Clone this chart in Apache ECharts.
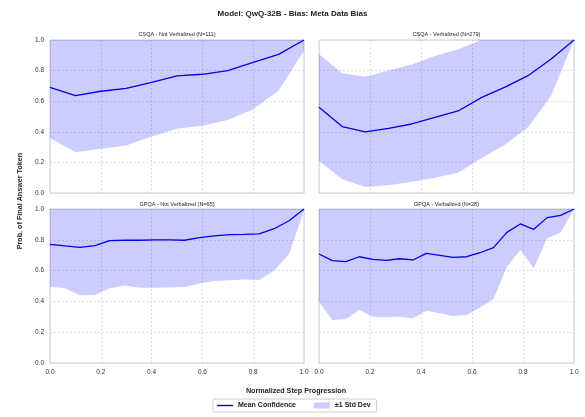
<!DOCTYPE html>
<html><head><meta charset="utf-8">
<script src="https://cdn.jsdelivr.net/npm/echarts@6/dist/echarts.min.js"></script>
<style>html,body{margin:0;padding:0;background:#fff}#c{width:585px;height:417px}</style>
</head><body><div id="c"></div>
<script>
const mainTitle = 'Model: QwQ-32B - Bias: Meta Data Bias';
const panelTitles = ['CSQA - Not Verbalized (N=111)', 'CSQA - Verbalized (N=279)', 'GPQA - Not Verbalized (N=65)', 'GPQA - Verbalized (N=28)'];
const xLabel = 'Normalized Step Progression';
const yLabel = 'Prob. of Final Answer Token';
const legendMean = 'Mean Confidence';
const legendStd = '±1 Std Dev';

// Panel 1: CSQA - Not Verbalized (11 points)
const p1x = [0, 0.1, 0.2, 0.3, 0.4, 0.5, 0.6, 0.7, 0.8, 0.9, 1.0];
const p1mean = [0.69, 0.636, 0.665, 0.684, 0.723, 0.765, 0.776, 0.80, 0.854, 0.906, 1.0];
const p1low = [0.36, 0.266, 0.29, 0.31, 0.37, 0.42, 0.44, 0.477, 0.547, 0.67, 0.93];
const p1up = [1, 1, 1, 1, 1, 1, 1, 1, 1, 1, 1];

// Panel 2: CSQA - Verbalized (12 points, x = i/11)
const p2x = [0, 0.0909, 0.1818, 0.2727, 0.3636, 0.4545, 0.5455, 0.6364, 0.7273, 0.8182, 0.9091, 1.0];
const p2mean = [0.56, 0.434, 0.40, 0.423, 0.451, 0.495, 0.536, 0.623, 0.69, 0.765, 0.874, 1.0];
const p2low = [0.21, 0.09, 0.04, 0.05, 0.074, 0.10, 0.133, 0.227, 0.314, 0.427, 0.63, 1.0];
const p2up = [0.908, 0.782, 0.76, 0.80, 0.84, 0.895, 0.94, 1, 1, 1, 1, 1];

// Panel 3: GPQA - Not Verbalized (18 points, x = i/17)
const p3x = [0, 0.0588, 0.1176, 0.1765, 0.2353, 0.2941, 0.3529, 0.4118, 0.4706, 0.5294, 0.5882, 0.6471, 0.7059, 0.7647, 0.8235, 0.8824, 0.9412, 1.0];
const p3mean = [0.77, 0.76, 0.751, 0.762, 0.794, 0.797, 0.797, 0.80, 0.80, 0.797, 0.814, 0.825, 0.833, 0.835, 0.838, 0.872, 0.924, 1.0];
const p3low = [0.496, 0.485, 0.44, 0.442, 0.485, 0.504, 0.489, 0.489, 0.491, 0.494, 0.517, 0.532, 0.537, 0.543, 0.539, 0.60, 0.708, 0.99];
const p3up = [1, 1, 1, 1, 1, 1, 1, 1, 1, 1, 1, 1, 1, 1, 1, 1, 1, 1];

// Panel 4: GPQA - Verbalized (20 points, x = i/19)
const p4x = [0, 0.0526, 0.1053, 0.1579, 0.2105, 0.2632, 0.3158, 0.3684, 0.4211, 0.4737, 0.5263, 0.5789, 0.6316, 0.6842, 0.7368, 0.7895, 0.8421, 0.8947, 0.9474, 1.0];
const p4mean = [0.708, 0.665, 0.658, 0.69, 0.673, 0.667, 0.677, 0.669, 0.712, 0.699, 0.686, 0.69, 0.716, 0.749, 0.848, 0.903, 0.868, 0.944, 0.959, 1.0];
const p4low = [0.398, 0.279, 0.284, 0.344, 0.30, 0.297, 0.30, 0.29, 0.34, 0.323, 0.305, 0.312, 0.361, 0.416, 0.626, 0.734, 0.615, 0.81, 0.848, 1.0];
const p4up = [1, 1, 1, 1, 1, 1, 1, 1, 1, 1, 1, 1, 1, 1, 1, 1, 1, 1, 1, 1];

const tickLabels = ['0.0', '0.2', '0.4', '0.6', '0.8', '1.0'];

const panels = [
  {x: p1x, mean: p1mean, low: p1low, up: p1up},
  {x: p2x, mean: p2mean, low: p2low, up: p2up},
  {x: p3x, mean: p3mean, low: p3low, up: p3up},
  {x: p4x, mean: p4mean, low: p4low, up: p4up}
];

const FONT = '"Liberation Sans", Arial, sans-serif';
const grids = [
  {left: 50, top: 40, width: 254, height: 153},
  {left: 319, top: 40, width: 255, height: 153},
  {left: 50, top: 209, width: 254, height: 154},
  {left: 319, top: 209, width: 255, height: 154}
].map(g => Object.assign(g, {show: true, borderColor: '#cccccc', borderWidth: 1, backgroundColor: 'transparent', containLabel: false}));

function fmt(v) {
  const i = Math.round(v * 5);
  return tickLabels[i] !== undefined ? tickLabels[i] : '';
}

const xAxes = grids.map((g, i) => ({
  type: 'value', gridIndex: i, min: 0, max: 1, interval: 0.2,
  axisLine: {show: false}, axisTick: {show: false},
  axisLabel: {show: i >= 2, formatter: fmt, fontFamily: FONT, fontSize: 6.5, color: '#333', margin: 6},
  splitLine: {show: true, lineStyle: {color: '#d6d6d6', type: [2, 2], width: 0.8}}
}));
const yAxes = grids.map((g, i) => ({
  type: 'value', gridIndex: i, min: 0, max: 1, interval: 0.2,
  axisLine: {show: false}, axisTick: {show: false},
  axisLabel: {show: i % 2 === 0, formatter: fmt, fontFamily: FONT, fontSize: 6.5, color: '#333', margin: 6},
  splitLine: {show: true, lineStyle: {color: '#d6d6d6', type: [2, 2], width: 0.8}}
}));

const series = [];
panels.forEach((p, i) => {
  series.push({
    name: legendStd, type: 'custom', xAxisIndex: i, yAxisIndex: i,
    data: [[0, 0]], silent: true, clip: true, z: 1,
    itemStyle: {color: 'rgba(0,0,255,0.2)'},
    renderItem: function (params, api) {
      const pts = [];
      for (let k = 0; k < p.x.length; k++) pts.push(api.coord([p.x[k], p.up[k]]));
      for (let k = p.x.length - 1; k >= 0; k--) pts.push(api.coord([p.x[k], p.low[k]]));
      return {type: 'polygon', shape: {points: pts}, style: {fill: 'rgba(0,0,255,0.2)', stroke: null}};
    }
  });
  series.push({
    name: legendMean, type: 'line', xAxisIndex: i, yAxisIndex: i,
    data: p.x.map((x, k) => [x, p.mean[k]]), symbol: 'none',
    lineStyle: {color: '#0000ee', width: 1.3}, itemStyle: {color: '#0000ee'}, z: 3
  });
});

const centers = [[177, 34.5], [446.5, 34.5], [177, 204], [446.5, 204]];
const graphic = panelTitles.map((t, i) => ({
  type: 'text', x: centers[i][0], y: centers[i][1],
  style: {text: t, fontFamily: FONT, fontSize: 5.5, fill: '#222', align: 'center', verticalAlign: 'middle'}
}));
graphic.push({
  type: 'text', x: 296, y: 391,
  style: {text: xLabel, fontFamily: FONT, fontSize: 7.2, fontWeight: 'bold', fill: '#222', align: 'center', verticalAlign: 'middle'}
});
graphic.push({
  type: 'text', x: 20, y: 201, rotation: Math.PI / 2,
  style: {text: yLabel, fontFamily: FONT, fontSize: 7.2, fontWeight: 'bold', fill: '#222', align: 'center', verticalAlign: 'middle'}
});

const chart = echarts.init(document.getElementById('c'), null, {renderer: 'canvas'});
chart.setOption({
  animation: false,
  backgroundColor: '#fff',
  title: {
    text: mainTitle, left: 'center', top: 5,
    textStyle: {fontFamily: FONT, fontSize: 8, fontWeight: 'bold', color: '#222'}
  },
  legend: {
    data: [{name: legendMean, icon: 'path://M0,0H16V1.4H0Z'}, {name: legendStd, icon: 'rect'}],
    left: 213, top: 399, orient: 'horizontal',
    itemWidth: 16, itemHeight: 6, itemGap: 18, symbolKeepAspect: true,
    padding: [3, 6, 3, 4],
    borderColor: '#cccccc', borderWidth: 1, borderRadius: 2,
    textStyle: {fontFamily: FONT, fontSize: 7, fontWeight: 'bold', color: '#222'}
  },
  grid: grids, xAxis: xAxes, yAxis: yAxes, series: series, graphic: graphic
});
</script></body></html>
